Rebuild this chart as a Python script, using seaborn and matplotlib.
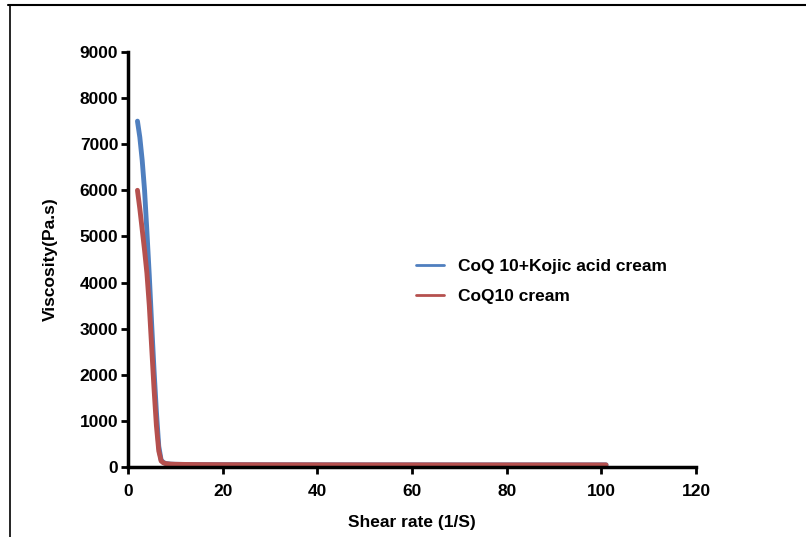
import matplotlib
matplotlib.use("Agg")
import matplotlib.pyplot as plt
from matplotlib.lines import Line2D
import seaborn as sns
import pandas as pd

# shear rate (1/S) and viscosity (Pa.s)
shear = [2, 2.5, 3, 3.5, 4, 4.5, 5, 5.5, 6, 6.5, 7, 7.5, 8, 9, 10, 12, 15, 20,
         30, 40, 50, 60, 70, 80, 90, 101]
visc_kojic = [7500, 7150, 6650, 6000, 5100, 4150, 3100, 2100, 1200, 450, 150, 95,
              75, 62, 58, 55, 52, 50, 48, 47, 46, 46, 45, 45, 45, 45]
visc_coq10 = [6000, 5600, 5150, 4700, 4200, 3500, 2600, 1700, 900, 350, 130, 90,
              72, 62, 58, 55, 52, 50, 48, 47, 46, 46, 45, 45, 45, 45]
labels = ["CoQ 10+Kojic acid cream", "CoQ10 cream"]
colors = ["#4f7fbf", "#b5504e"]

df = pd.concat([
    pd.DataFrame({"shear": shear, "visc": visc_kojic, "cream": labels[0]}),
    pd.DataFrame({"shear": shear, "visc": visc_coq10, "cream": labels[1]}),
])

sns.set_style("white")
plt.rcParams["font.family"] = ["Liberation Sans", "DejaVu Sans"]
plt.rcParams["font.weight"] = "bold"
plt.rcParams["text.color"] = "black"
plt.rcParams["axes.labelcolor"] = "black"
plt.rcParams["xtick.color"] = "black"
plt.rcParams["ytick.color"] = "black"

fig = plt.figure(figsize=(8.06, 5.37), dpi=100)
ax = fig.add_axes([0.1588, 0.1304, 0.7047, 0.7728])

sns.lineplot(data=df, x="shear", y="visc", hue="cream", palette=colors,
             linewidth=3.5, ax=ax)

ax.set_xlim(0, 120)
ax.set_ylim(0, 9000)
ax.set_xticks(range(0, 121, 20))
ax.set_yticks(range(0, 9001, 1000))
ax.set_xlabel("Shear rate (1/S)", fontsize=12.5, fontweight="bold", labelpad=12)
ax.set_ylabel("Viscosity(Pa.s)", fontsize=12.5, fontweight="bold", labelpad=16)
ax.tick_params(axis="both", labelsize=12.5, width=2, length=5, direction="out",
               bottom=True, left=True)
ax.tick_params(axis="x", pad=7)
ax.tick_params(axis="y", pad=2)
for lab in ax.get_xticklabels() + ax.get_yticklabels():
    lab.set_fontweight("bold")

sns.despine(ax=ax)
for side in ["left", "bottom"]:
    ax.spines[side].set_linewidth(2.5)
    ax.spines[side].set_color("black")

leg = ax.legend(loc="center left", bbox_to_anchor=(0.48, 0.447), frameon=False,
                fontsize=12.5, handlelength=1.6, labelspacing=0.9)
for t in leg.get_texts():
    t.set_fontweight("bold")
for h in leg.get_lines():
    h.set_linewidth(2)

# outer frame of the figure image
fig.add_artist(Line2D([0.010, 1.0], [0.991, 0.991], color="black", lw=1.5,
                      transform=fig.transFigure))
fig.add_artist(Line2D([0.012, 0.012], [0.0, 0.991], color="black", lw=1.2,
                      transform=fig.transFigure))

fig.savefig("out.png", dpi=100)
